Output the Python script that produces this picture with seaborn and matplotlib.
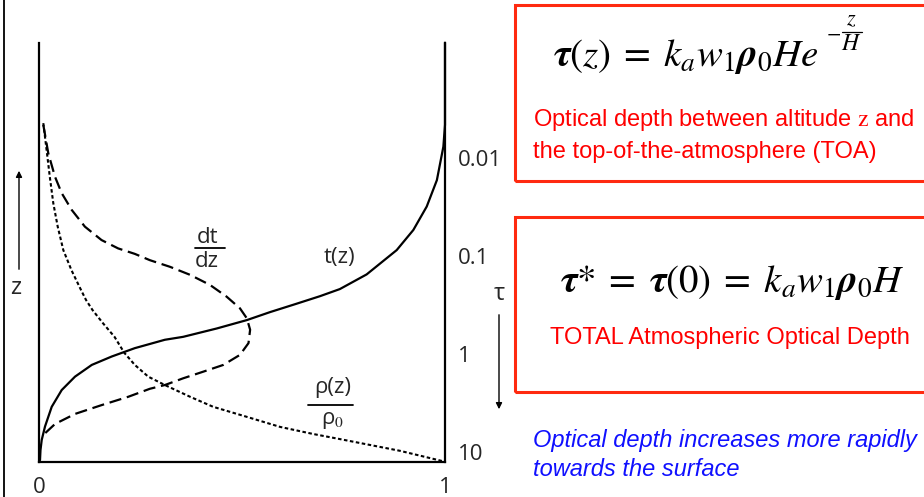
import numpy as np
import pandas as pd
import seaborn as sns
import matplotlib.pyplot as plt
from matplotlib.lines import Line2D
from matplotlib.patches import Rectangle, FancyArrowPatch
from matplotlib.ticker import NullLocator
from matplotlib.mathtext import MathTextParser

# ---- data (x: fraction 0..1, z: altitude in scale heights) ----
t_x = [0.0, 0.0025, 0.0037, 0.0067, 0.0148, 0.0313, 0.0559, 0.0887, 0.130, 0.179,
       0.236, 0.310, 0.355, 0.438, 0.512, 0.569, 0.631, 0.692, 0.741, 0.807,
       0.881, 0.922, 0.955, 0.980, 0.996, 1.0, 1.0]
t_z = [0.0, 0.04, 0.28, 0.52, 0.84, 1.31, 1.71, 2.03, 2.31, 2.51,
       2.71, 2.91, 2.98, 3.18, 3.38, 3.57, 3.76, 3.95, 4.12, 4.47,
       5.05, 5.53, 6.09, 6.72, 7.52, 8.04, 10.0]

dtdz_x = [0.0106, 0.0229, 0.0394, 0.0559, 0.0805, 0.113, 0.154, 0.195, 0.236, 0.273,
          0.323, 0.372, 0.421, 0.462, 0.495, 0.512, 0.520, 0.516, 0.495, 0.454,
          0.405, 0.355, 0.310, 0.273, 0.220, 0.154, 0.0887, 0.0394, 0.0106]
dtdz_z = [8.04, 7.36, 6.80, 6.41, 6.01, 5.61, 5.29, 5.09, 4.96, 4.81,
          4.65, 4.46, 4.22, 3.94, 3.66, 3.42, 3.15, 2.83, 2.55, 2.31,
          2.15, 1.99, 1.83, 1.74, 1.55, 1.35, 1.14, 0.90, 0.64]

rho_x = [0.0106, 0.0197, 0.0266, 0.0352, 0.0461, 0.0599, 0.080, 0.1034, 0.1158, 0.1318,
         0.158, 0.186, 0.210, 0.236, 0.269, 0.310, 0.372, 0.429, 0.512, 0.594,
         0.676, 0.741, 0.815, 0.889, 1.0]
rho_z = [8.08, 7.36, 6.80, 6.17, 5.61, 5.05, 4.57, 4.10, 3.86, 3.62,
         3.30, 2.98, 2.60, 2.31, 2.03, 1.83, 1.55, 1.31, 1.07, 0.83,
         0.66, 0.54, 0.40, 0.26, 0.0]

x_ticks = [0, 1]
x_tick_labels = ["0", "1"]
tau_ticks = [0.01, 0.1, 1, 10]
tau_tick_labels = ["0.01", "0.1", "1", "10"]
tau_limits = (12.56, 6.65e-4)

sns.set_style("white")
plt.rcParams['font.family'] = ['Open Sans', 'DejaVu Sans']
plt.rcParams['mathtext.fontset'] = 'stix'

fig = plt.figure(figsize=(9.24, 4.97), dpi=100)
W, H = 924.0, 497.0
def fx(px): return px / W
def fy(py): return 1 - py / H

ax = fig.add_axes([fx(39), fy(461.7), (445 - 39) / W, (461.7 - 42.7) / H])

curves = [
    (t_x, t_z, '-', 1.6),
    (dtdz_x, dtdz_z, (0, (5.5, 2.6)), 1.6),
    (rho_x, rho_z, (0, (1.7, 1.2)), 1.5),
]
for xs, zs, ls, lw in curves:
    d = pd.DataFrame({"x": xs, "z": zs})
    sns.lineplot(data=d, x="x", y="z", sort=False, estimator=None, ax=ax,
                 color="black", linestyle=ls, linewidth=lw, clip_on=False)

ax.set_xlim(0, 1)
ax.set_ylim(0, 10)
ax.set_xlabel("")
ax.set_ylabel("")
ax.set_yticks([])
ax.set_xticks(x_ticks)
ax.set_xticklabels(x_tick_labels, fontsize=16)
ax.tick_params(axis='x', length=0, pad=11)
ax.spines['top'].set_visible(False)
for s in ['left', 'right', 'bottom']:
    ax.spines[s].set_color('black')
    ax.spines[s].set_linewidth(1.6)

ax2 = ax.twinx()
ax2.set_yscale('log')
ax2.set_ylim(*tau_limits)
ax2.set_yticks(tau_ticks)
ax2.set_yticklabels(tau_tick_labels, fontsize=16)
ax2.yaxis.set_minor_locator(NullLocator())
ax2.tick_params(axis='y', length=0, pad=9)
for s in ax2.spines.values():
    s.set_visible(False)

# curve labels
ax.text(0.414, 5.36, "dt", ha='center', va='center', fontsize=16)
ax.add_line(Line2D([0.384, 0.458], [5.10, 5.10], color='black', lw=1.3))
ax.text(0.414, 4.77, "dz", ha='center', va='center', fontsize=16)
ax.text(0.741, 4.88, "t(z)", ha='center', va='center', fontsize=16)
ax.text(0.724, 1.76, "ρ(z)", ha='center', va='center', fontsize=16)
ax.add_line(Line2D([0.663, 0.773], [1.35, 1.35], color='black', lw=1.3))
ax.text(0.724, 0.99, r"ρ$_{\mathrm{0}}$", ha='center', va='center', fontsize=16)

# left border line
fig.add_artist(Line2D([fx(3.5), fx(3.5)], [0, 1], color='black', lw=1.3))

# z and tau labels with arrows
fig.text(fx(16), fy(288), "z", ha='center', va='center', fontsize=17)
fig.add_artist(FancyArrowPatch(
    (fx(19), fy(272)), (fx(19), fy(168)), transform=fig.transFigure,
    arrowstyle='-|>', mutation_scale=9, color='black', lw=1.0))
fig.text(fx(499), fy(294), "τ", ha='center', va='center', fontsize=17)
fig.add_artist(FancyArrowPatch(
    (fx(499), fy(312)), (fx(499), fy(412)), transform=fig.transFigure,
    arrowstyle='-|>', mutation_scale=9, color='black', lw=1.0))

# red boxes
red_box = '#ff2a10'
fig.add_artist(Rectangle((fx(514.7), fy(180.7)), fx(930 - 514.7), (180.7 - 4.7) / H,
                         transform=fig.transFigure, fill=False, edgecolor=red_box, lw=2.2))
fig.add_artist(Rectangle((fx(514.7), fy(392.3)), fx(930 - 514.7), (392.3 - 216.7) / H,
                         transform=fig.transFigure, fill=False, edgecolor=red_box, lw=2.2))

# equations (bold greek if supported)
def ok(s):
    try:
        MathTextParser('path').parse(s)
        return True
    except Exception:
        return False

BT, BR = r'\boldsymbol{\tau}', r'\boldsymbol{\rho}'
if not ok('$' + BT + '$'):
    BT, BR = r'\mathbf{\tau}', r'\mathbf{\rho}'
eq1 = '$' + BT + r'(z)\;=\;k_a w_1 ' + BR + r'_0 He$'
eq2 = '$' + BT + r'{*}\;=\;' + BT + r'(0)\;=\;k_a w_1 ' + BR + r'_0 H$'

fig.text(fx(553), fy(66), eq1, ha='left', va='baseline', fontsize=28, color='black')
# exponent  -z/H
fig.text(fx(834), fy(33), r'$-$', ha='center', va='center', fontsize=15, color='black')
fig.text(fx(851), fy(20), r'$z$', ha='center', va='center', fontsize=16, color='black')
fig.add_artist(Line2D([fx(842), fx(862)], [fy(31.5), fy(31.5)], color='black', lw=0.9))
fig.text(fx(851), fy(44), r'$H$', ha='center', va='center', fontsize=17, color='black')

fig.text(fx(560), fy(292), eq2, ha='left', va='baseline', fontsize=28, color='black')

# red texts
fig.text(fx(533), fy(120), r"Optical depth between altitude $\mathrm{z}$ and",
         ha='left', va='center', fontsize=17, color='#ff0000', family='Liberation Sans')
fig.text(fx(533), fy(152), "the top-of-the-atmosphere (TOA)",
         ha='left', va='center', fontsize=17, color='#ff0000', family='Liberation Sans')
fig.text(fx(730), fy(338), "TOTAL Atmospheric Optical Depth",
         ha='center', va='center', fontsize=17, color='#ff0000', family='Liberation Sans')

# blue text
fig.text(fx(533), fy(440), "Optical depth increases more rapidly",
         ha='left', va='center', fontsize=17, color='#1010ff', style='italic',
         family='Liberation Sans')
fig.text(fx(533), fy(470), "towards the surface",
         ha='left', va='center', fontsize=17, color='#1010ff', style='italic',
         family='Liberation Sans')

fig.savefig("out.png", dpi=100)
